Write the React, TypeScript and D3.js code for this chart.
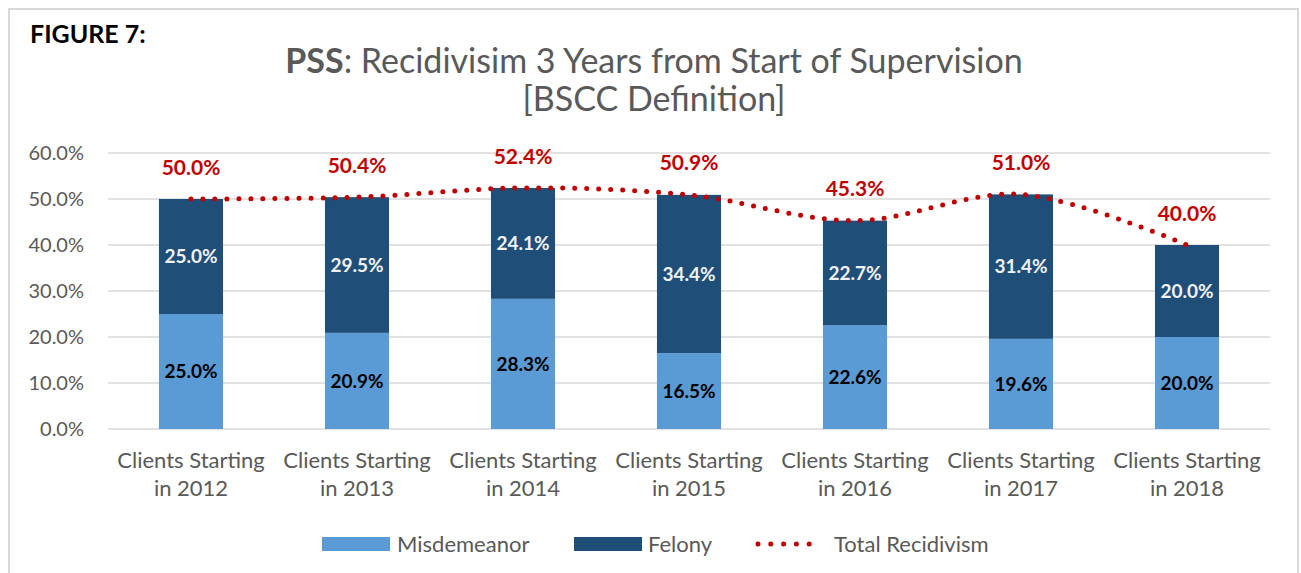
import React from "react";
import * as d3 from "d3";

const years = ["2012", "2013", "2014", "2015", "2016", "2017", "2018"];
const misdemeanor = [25.0, 20.9, 28.3, 16.5, 22.6, 19.6, 20.0];
const felony = [25.0, 29.5, 24.1, 34.4, 22.7, 31.4, 20.0];
const total = [50.0, 50.4, 52.4, 50.9, 45.3, 51.0, 40.0];
const yTicks = [0, 10, 20, 30, 40, 50, 60];

const FONT = "Lato, 'Open Sans', sans-serif";
const GREY = "#595959";
const LIGHT_BLUE = "#5b9bd5";
const DARK_BLUE = "#1f4e79";
const RED = "#c00000";

const width = 1301;
const height = 573;

export default function App() {
  const x = d3
    .scaleBand<string>()
    .domain(years)
    .range([108, 1270])
    .paddingInner(0.614)
    .paddingOuter(0.307);
  const y = d3.scaleLinear().domain([0, 60]).range([429, 153]);
  const bw = x.bandwidth();
  const cx = (yr: string) => (x(yr) as number) + bw / 2;

  // total recidivism as smoothed line (like Excel)
  const line = d3
    .line<number>()
    .x((_, i) => cx(years[i]))
    .y((d) => y(d))
    .curve(d3.curveCatmullRom.alpha(0.5));

  return (
    <div style={{ position: "fixed", left: 0, top: 0 }}>
      <svg width={width} height={height} style={{ display: "block", background: "#fff" }}>
        <rect x={9} y={9} width={1289} height={600} fill="none" stroke="#d9d9d9" strokeWidth={2} />

        <text x={30} y={43} fontFamily={FONT} fontWeight={700} fontSize={25} fill="#000">
          FIGURE 7:
        </text>
        <text x={654} y={73} textAnchor="middle" fontFamily={FONT} fontSize={34} fill={GREY}>
          <tspan fontWeight={700}>PSS</tspan>: Recidivisim 3 Years from Start of Supervision
        </text>
        <text x={654} y={111} textAnchor="middle" fontFamily={FONT} fontSize={34} fill={GREY}>
          [BSCC Definition]
        </text>

        {/* grid + y axis */}
        {yTicks.map((t) => (
          <g key={t}>
            <line x1={108} x2={1270} y1={y(t)} y2={y(t)} stroke="#d9d9d9" strokeWidth={1.5} />
            <text
              x={84}
              y={y(t)}
              dy="0.36em"
              textAnchor="end"
              fontFamily={FONT}
              fontSize={20}
              fill={GREY}
            >
              {t.toFixed(1)}%
            </text>
          </g>
        ))}

        {/* stacked bars */}
        {years.map((yr, i) => {
          const m = misdemeanor[i];
          const f = felony[i];
          return (
            <g key={yr}>
              <rect x={x(yr)} width={bw} y={y(m)} height={y(0) - y(m)} fill={LIGHT_BLUE} />
              <rect x={x(yr)} width={bw} y={y(m + f)} height={y(m) - y(m + f)} fill={DARK_BLUE} />
              <text
                x={cx(yr)}
                y={(y(0) + y(m)) / 2}
                dy="0.36em"
                textAnchor="middle"
                fontFamily={FONT}
                fontWeight={700}
                fontSize={19}
                fill="#000"
              >
                {m.toFixed(1)}%
              </text>
              <text
                x={cx(yr)}
                y={(y(m) + y(m + f)) / 2}
                dy="0.36em"
                textAnchor="middle"
                fontFamily={FONT}
                fontWeight={700}
                fontSize={19}
                fill="#f2f2f2"
              >
                {f.toFixed(1)}%
              </text>
              <text
                x={cx(yr)}
                y={y(0) + 39}
                textAnchor="middle"
                fontFamily={FONT}
                fontSize={22}
                fill={GREY}
              >
                Clients Starting
              </text>
              <text
                x={cx(yr)}
                y={y(0) + 67}
                textAnchor="middle"
                fontFamily={FONT}
                fontSize={22}
                fill={GREY}
              >
                in {yr}
              </text>
            </g>
          );
        })}

        {/* total line */}
        <path
          d={line(total) || ""}
          fill="none"
          stroke={RED}
          strokeWidth={5}
          strokeLinecap="round"
          strokeDasharray="0 12"
        />
        {years.map((yr, i) => (
          <text
            key={yr}
            x={cx(yr)}
            y={y(total[i]) - 32}
            dy="0.36em"
            textAnchor="middle"
            fontFamily={FONT}
            fontWeight={700}
            fontSize={21}
            fill={RED}
          >
            {total[i].toFixed(1)}%
          </text>
        ))}

        {/* legend */}
        <g fontFamily={FONT} fontSize={22} fill={GREY}>
          <rect x={322} y={537} width={68} height={14} fill={LIGHT_BLUE} />
          <text x={397} y={552}>Misdemeanor</text>
          <rect x={574} y={537} width={68} height={14} fill={DARK_BLUE} />
          <text x={648} y={552}>Felony</text>
          <line
            x1={758}
            x2={822}
            y1={544}
            y2={544}
            stroke={RED}
            strokeWidth={5}
            strokeLinecap="round"
            strokeDasharray="0 12.8"
          />
          <text x={834} y={552}>Total Recidivism</text>
        </g>
      </svg>
    </div>
  );
}
